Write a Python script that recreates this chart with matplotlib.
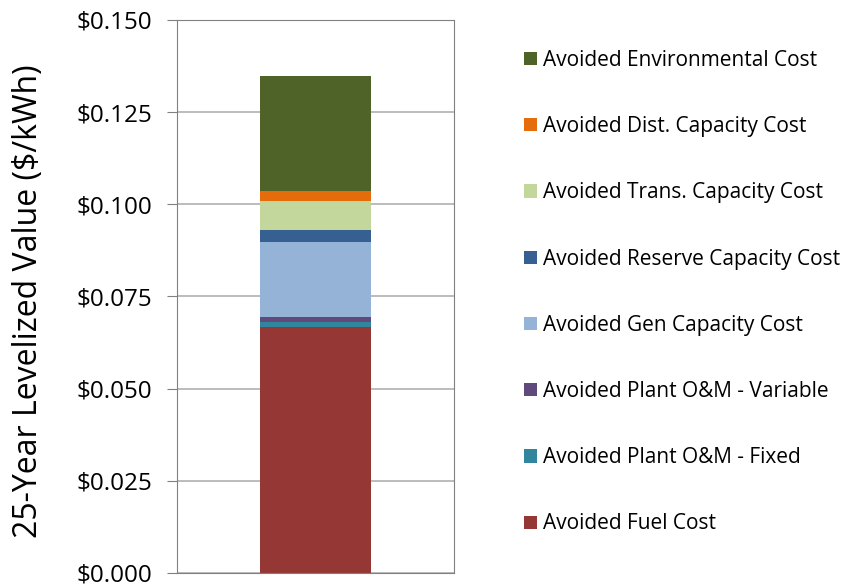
import matplotlib.pyplot as plt
from matplotlib.ticker import FuncFormatter

plt.rcParams['font.family'] = ['Open Sans', 'DejaVu Sans']

categories = ["Avoided Fuel Cost",
              "Avoided Plant O&M - Fixed",
              "Avoided Plant O&M - Variable",
              "Avoided Gen Capacity Cost",
              "Avoided Reserve Capacity Cost",
              "Avoided Trans. Capacity Cost",
              "Avoided Dist. Capacity Cost",
              "Avoided Environmental Cost"]
values = [0.0666, 0.0014, 0.0015, 0.0203, 0.0032, 0.0080, 0.0025, 0.0312]
colors = ["#953735", "#31859C", "#604A7B", "#95B3D7",
          "#376092", "#C3D69B", "#E46C0A", "#4F6228"]
yticks = [0.0, 0.025, 0.05, 0.075, 0.1, 0.125, 0.15]

fig = plt.figure(figsize=(8.48, 5.87), dpi=100)
ax = fig.add_axes([0.209, 0.024, 0.326, 0.942])

bottom = 0
handles = []
for cat, v, c in zip(categories, values, colors):
    b = ax.bar(0, v, width=0.4, bottom=bottom, color=c, label=cat, zorder=2)
    handles.append(b)
    bottom += v

ax.set_xlim(-0.5, 0.5)
ax.set_ylim(0, 0.15)
ax.set_yticks(yticks)
ax.yaxis.set_major_formatter(FuncFormatter(lambda v, p: "${:.3f}".format(v)))
ax.set_xticks([])
ax.tick_params(axis='y', labelsize=17.5, length=7, color='#808080', direction='out', pad=11)
ax.yaxis.grid(True, color='#B0B0B0', linewidth=1.2, zorder=0)
for s in ax.spines.values():
    s.set_color('#808080')
ax.set_ylabel("25-Year Levelized Value ($/kWh)", fontsize=23)
ax.yaxis.set_label_coords(-0.477, 0.491)

leg = fig.legend(handles[::-1], categories[::-1], loc='upper left',
                 bbox_to_anchor=(0.608, 0.929), frameon=False, fontsize=15,
                 handlelength=0.65, handleheight=0.6, handletextpad=0.26,
                 labelspacing=2.17, borderaxespad=0)

fig.savefig('out.png', dpi=100)
